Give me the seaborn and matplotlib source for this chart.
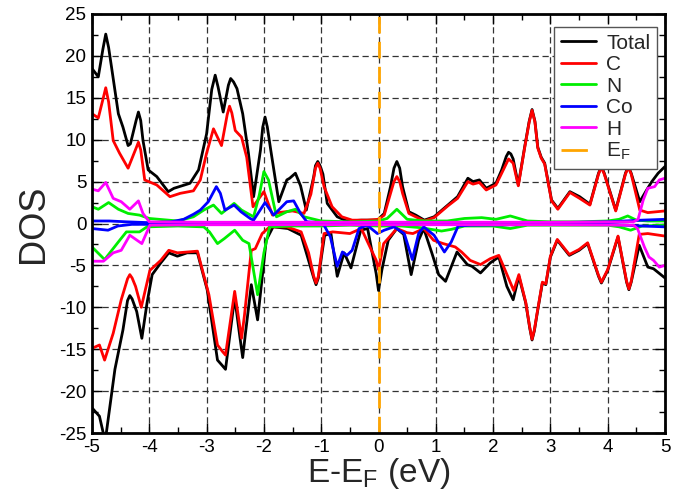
import matplotlib
matplotlib.use("Agg")
import matplotlib.pyplot as plt
from matplotlib.lines import Line2D
import seaborn as sns
import pandas as pd

# ---------------- data ----------------
TOT_UP_E = [-5.0, -4.89, -4.81, -4.76, -4.71, -4.66, -4.54, -4.46, -4.37, -4.33, -4.23, -4.19, -4.15, -4.11, -4.02,
            -3.87, -3.67, -3.57, -3.29, -3.14, -3.0, -2.91, -2.85, -2.80, -2.71, -2.62, -2.58, -2.53, -2.47, -2.37,
            -2.27, -2.18, -2.06, -2.02, -1.98, -1.94, -1.88, -1.74, -1.60, -1.55, -1.45, -1.36, -1.26, -1.13,
            -1.10, -1.06, -1.02, -0.97, -0.895, -0.72, -0.55, -0.3, -0.02, 0.10, 0.21, 0.27, 0.32, 0.37, 0.42,
            0.53, 0.65, 0.80, 0.97, 1.21, 1.38, 1.56, 1.65, 1.76, 1.88, 2.05, 2.15, 2.23, 2.27, 2.31, 2.35, 2.44,
            2.55, 2.63, 2.68, 2.73, 2.78, 2.84, 2.9, 3.02, 3.13, 3.34, 3.51, 3.69, 3.84, 3.89, 3.94, 4.14, 4.31,
            4.36, 4.41, 4.56, 4.68, 4.77, 4.88, 5.0]
TOT_UP = [18.5, 17.5, 20.8, 22.6, 21.0, 18.7, 13.1, 11.5, 9.3, 9.5, 12.3, 13.3, 12.3, 9.9, 6.4,
          5.6, 3.8, 4.2, 4.8, 6.4, 10.7, 16.0, 17.7, 16.3, 13.3, 16.5, 17.3, 16.9, 16.1, 13.1,
          8.4, 3.2, 8.75, 11.5, 12.7, 11.5, 8.75, 2.6, 5.2, 5.4, 6.0, 4.5, 1.6, 5.6,
          6.9, 7.4, 6.9, 5.9, 2.4, 0.8, 0.3, 0.4, 0.4, 1.2, 4.4, 6.6, 7.4, 6.6, 4.4,
          1.4, 1.0, 0.4, 0.8, 2.2, 3.2, 5.4, 5.0, 5.2, 4.2, 4.8, 6.4, 8.0, 8.5, 8.3, 7.7, 4.6,
          9.1, 12.2, 13.6, 12.2, 9.1, 7.9, 7.2, 2.8, 1.8, 3.8, 3.2, 2.3, 6.0, 6.8, 6.0, 1.6, 6.0,
          6.8, 6.0, 2.6, 4.0, 5.0, 6.0, 6.8]

TOT_DN_E = [-5.0, -4.87, -4.77, -4.6, -4.46, -4.38, -4.34, -4.30, -4.22, -4.13, -4.04, -3.95, -3.8, -3.66, -3.51,
            -3.34, -3.16, -2.99, -2.81, -2.72, -2.67, -2.51, -2.42, -2.37, -2.32, -2.22, -2.11, -1.96, -1.84,
            -1.58, -1.35, -1.13, -1.09, -1.05, -0.94, -0.83, -0.72, -0.6, -0.48, -0.31, -0.19, -0.04, 0.0,
            0.06, 0.17, 0.32, 0.44, 0.57, 0.7, 0.79, 0.93, 1.05, 1.17, 1.37, 1.55, 1.63, 1.78, 1.95, 2.1, 2.24,
            2.35, 2.45, 2.57, 2.64, 2.68, 2.72, 2.77, 2.86, 2.92, 3.0, 3.12, 3.33, 3.5, 3.65, 3.84, 3.89, 4.0,
            4.18, 4.33, 4.37, 4.41, 4.55, 4.7, 4.8, 5.0]
TOT_DN = [-22.0, -23.0, -26.0, -17.4, -12.7, -9.2, -8.6, -9.0, -10.5, -13.7, -9.5, -6.1, -4.7, -3.5, -3.9,
          -3.5, -3.5, -7.9, -16.3, -17.0, -17.4, -8.8, -13.5, -16.0, -13.0, -7.3, -11.5, -2.0, -0.4,
          -0.6, -1.4, -6.5, -7.3, -6.5, -1.4, -1.2, -6.3, -3.5, -5.3, -0.8, -0.6, -6.0, -8.0,
          -5.5, -2.0, -0.6, -1.3, -6.1, -2.0, -0.6, -3.5, -6.1, -6.9, -3.4, -4.9, -5.1, -5.9, -4.7, -4.0, -7.5,
          -9.1, -6.3, -9.5, -12.5, -13.9, -12.8, -10.7, -7.1, -7.3, -4.0, -2.0, -3.8, -3.2, -2.4, -6.3, -7.1, -5.6,
          -1.6, -7.0, -7.9, -7.0, -2.6, -5.2, -5.4, -6.5]

C_UP_E = [-5.0, -4.89, -4.81, -4.76, -4.71, -4.63, -4.52, -4.37, -4.23, -4.19, -4.15, -4.08, -3.87, -3.64, -3.46,
          -3.23, -3.11, -3.0, -2.88, -2.74, -2.64, -2.6, -2.56, -2.5, -2.39, -2.3, -2.19, -2.0, -1.85, -1.75,
          -1.5, -1.3, -1.18, -1.10, -1.06, -1.02, -0.95, -0.81, -0.64, -0.46, -0.2, 0.0, 0.10, 0.21, 0.27,
          0.32, 0.37, 0.42, 0.53, 0.65, 0.80, 0.97, 1.21, 1.38, 1.56, 1.65, 1.76, 1.88, 2.05, 2.15, 2.27, 2.35,
          2.44, 2.55, 2.63, 2.68, 2.73, 2.78, 2.84, 2.9, 3.02, 3.13, 3.34, 3.51, 3.69, 3.84, 3.89, 3.94, 4.14,
          4.31, 4.36, 4.41, 4.56, 4.7, 5.0]
C_UP = [13.1, 12.6, 14.8, 16.2, 14.5, 9.9, 8.4, 6.6, 9.0, 9.7, 8.8, 5.2, 4.6, 3.2, 3.6,
        3.9, 5.2, 8.4, 11.3, 9.3, 13.0, 14.0, 13.2, 11.1, 10.3, 7.9, 2.0, 3.8, 1.0, 1.3,
        1.5, 1.2, 3.5, 6.6, 7.2, 6.6, 4.4, 2.0, 0.8, 0.4, 0.4, 0.5, 1.0, 3.6, 5.0,
        5.6, 5.0, 3.6, 1.2, 0.8, 0.3, 0.7, 2.1, 3.0, 5.0, 4.7, 4.9, 4.0, 4.6, 6.0, 7.7, 7.2,
        4.5, 9.0, 12.1, 13.5, 12.1, 9.0, 7.8, 7.1, 2.7, 1.7, 3.7, 3.0, 2.2, 5.9, 6.7, 5.9, 1.5,
        5.9, 6.7, 5.9, 1.6, 1.3, 1.5]

C_DN_E = [-5.0, -4.87, -4.78, -4.63, -4.49, -4.38, -4.34, -4.30, -4.24, -4.14, -3.99, -3.8, -3.66, -3.51, -3.16,
          -2.96, -2.81, -2.72, -2.67, -2.51, -2.42, -2.39, -2.34, -2.22, -2.15, -2.03, -1.9, -1.6, -1.35, -1.22,
          -1.13, -1.09, -1.05, -0.95, -0.8, -0.5, -0.3, -0.04, 0.0, 0.09, 0.32, 0.5, 0.6, 0.79, 0.96, 1.13,
          1.34, 1.45, 1.6, 1.78, 1.95, 2.1, 2.36, 2.45, 2.57, 2.64, 2.68, 2.72, 2.77, 2.86, 2.92, 3.0, 3.12,
          3.33, 3.5, 3.65, 3.84, 3.89, 4.0, 4.18, 4.33, 4.37, 4.41, 4.55, 4.7, 5.0]
C_DN = [-14.9, -14.5, -16.3, -13.1, -9.1, -6.6, -6.1, -6.5, -7.5, -10.0, -5.6, -4.4, -3.2, -3.5, -3.3,
        -8.5, -14.5, -15.3, -15.7, -8.1, -12.3, -13.7, -11.0, -3.2, -3.0, -1.2, -0.4, -0.4, -1.0, -3.5,
        -6.3, -7.1, -6.3, -1.2, -1.0, -1.2, -0.6, -4.4, -5.5, -2.4, -0.6, -1.1, -1.2, -0.6, -2.0, -2.4,
        -2.8, -3.4, -4.4, -4.9, -4.2, -3.8, -8.0, -6.1, -9.4, -12.4, -13.8, -12.7, -10.6, -7.0, -7.2, -3.9, -1.9,
        -3.7, -3.1, -2.3, -6.2, -7.0, -5.5, -1.5, -6.9, -7.8, -6.9, -1.3, -1.2, -1.5]

N_UP_E = [-5.0, -4.89, -4.71, -4.54, -4.37, -4.17, -4.0, -3.5, -3.23, -3.05, -2.88, -2.74, -2.52, -2.39, -2.18,
          -2.08, -2.0, -1.92, -1.78, -1.6, -1.45, -1.3, -1.0, -0.5, 0.0, 0.15, 0.32, 0.5, 0.8, 1.2, 1.5, 1.8,
          2.05, 2.3, 2.6, 3.0, 3.5, 4.0, 4.2, 4.35, 4.5, 4.7, 5.0]
N_UP = [2.0, 1.7, 2.5, 1.7, 1.2, 1.0, 0.6, 0.3, 0.8, 1.6, 2.2, 1.2, 2.4, 1.6, 0.8,
        3.4, 6.2, 5.2, 0.8, 1.4, 1.7, 0.8, 0.3, 0.2, 0.3, 0.6, 1.7, 0.5, 0.3, 0.3, 0.6, 0.7,
        0.5, 0.9, 0.3, 0.2, 0.2, 0.3, 0.5, 0.9, 0.4, 0.3, 0.3]

N_DN_E = [-5.0, -4.78, -4.54, -4.4, -4.17, -4.04, -3.5, -3.05, -2.95, -2.81, -2.69, -2.51, -2.37, -2.26, -2.11,
          -2.0, -1.9, -1.5, -1.0, -0.5, 0.0, 0.4, 0.74, 1.1, 1.27, 1.5, 2.0, 2.3, 2.6, 3.0, 4.0, 4.2, 4.4,
          4.6, 5.0]
N_DN = [-2.8, -4.3, -2.2, -1.0, -1.0, -0.4, -0.3, -0.4, -1.0, -2.4, -1.8, -0.8, -2.0, -2.4, -8.5,
        -3.5, -0.4, -0.3, -0.3, -0.2, -0.3, -0.3, -0.5, -0.9, -0.7, -0.3, -0.3, -0.6, -0.2, -0.2, -0.2, -0.4, -0.8,
        -0.3, -0.2]

CO_UP_E = [-5.0, -4.7, -4.4, -4.0, -3.62, -3.4, -3.23, -3.11, -2.97, -2.83, -2.76, -2.68, -2.52, -2.4, -2.24,
           -2.18, -1.98, -1.83, -1.6, -1.48, -1.36, -1.25, -1.0, 0.0, 1.0, 2.0, 3.0, 4.0, 4.3, 4.6, 5.0]
CO_UP = [0.3, 0.3, 0.2, 0.1, 0.2, 0.5, 1.1, 1.6, 2.6, 4.4, 3.6, 1.6, 2.2, 1.4, 0.6,
         0.4, 2.5, 1.0, 2.6, 2.7, 1.2, 0.2, 0.1, 0.1, 0.1, 0.1, 0.1, 0.2, 0.3, 0.4, 0.5]

CO_DN_E = [-5.0, -4.72, -4.55, -4.3, -3.0, -2.0, -1.0, -0.95, -0.84, -0.72, -0.63, -0.55, -0.46, -0.34, -0.2,
           -0.02, 0.1, 0.27, 0.45, 0.59, 0.7, 0.79, 0.97, 1.15, 1.27, 1.39, 1.6, 3.0, 4.0, 4.3, 4.6, 5.0]
CO_DN = [-0.6, -0.8, -0.3, -0.1, -0.1, -0.1, -0.1, -0.2, -1.6, -5.1, -3.4, -3.8, -3.2, -0.6, -0.2,
         -1.2, -0.8, -0.4, -1.2, -4.3, -1.2, -0.4, -1.4, -3.4, -2.2, -0.3, -0.2, -0.1, -0.1, -0.2, -0.3, -0.4]

H_UP_E = [-5.0, -4.89, -4.76, -4.63, -4.49, -4.34, -4.19, -4.11, -4.0, -3.0, 0.0, 3.0, 4.45, 4.53, 4.62, 4.7,
          4.82, 4.9, 5.0]
H_UP = [4.1, 3.9, 4.9, 3.0, 2.6, 1.7, 2.7, 1.2, 0.2, 0.15, 0.15, 0.15, 0.2, 0.5, 2.8, 4.2,
        4.4, 5.2, 5.4]

H_DN_E = [-5.0, -4.8, -4.63, -4.49, -4.34, -4.13, -3.99, -3.0, 0.0, 3.0, 4.45, 4.52, 4.64, 4.72, 4.8, 4.9, 5.0]
H_DN = [-4.5, -4.5, -3.5, -3.2, -1.4, -2.4, -0.2, -0.15, -0.15, -0.15, -0.2, -0.6, -2.8, -4.0, -4.4, -5.2, -5.0]

SPECIES = ["Total", "C", "N", "Co", "H"]
COLORS = ["#000000", "#ff0000", "#00ee00", "#0000ff", "#ff00ff"]
EF_COLOR = "#ffa500"
X_TICKS = [-5, -4, -3, -2, -1, 0, 1, 2, 3, 4, 5]
Y_TICKS = [-25, -20, -15, -10, -5, 0, 5, 10, 15, 20, 25]

SERIES = {
    "Total": [(TOT_UP_E, TOT_UP), (TOT_DN_E, TOT_DN)],
    "C": [(C_UP_E, C_UP), (C_DN_E, C_DN)],
    "N": [(N_UP_E, N_UP), (N_DN_E, N_DN)],
    "Co": [(CO_UP_E, CO_UP), (CO_DN_E, CO_DN)],
    "H": [(H_UP_E, H_UP), (H_DN_E, H_DN)],
}

# ---------------- figure ----------------
sns.set_theme(style="white")
plt.rcParams["font.family"] = ["Liberation Sans", "DejaVu Sans"]
plt.rcParams["mathtext.default"] = "regular"

fig = plt.figure(figsize=(6.76, 5.0), dpi=100)
ax = fig.add_axes([92 / 676, 1 - 433 / 500, (665 - 92) / 676, (433 - 14) / 500])

LW = 2.0
rows = []
for sp in SPECIES:
    for spin, (xs, ys) in zip(["up", "down"], SERIES[sp]):
        for x, y in zip(xs, ys):
            rows.append({"E": x, "DOS": y, "species": sp, "spin": spin})
df = pd.DataFrame(rows)

for sp, col in zip(SPECIES, COLORS):
    for spin in ["up", "down"]:
        sub = df[(df.species == sp) & (df.spin == spin)]
        sns.lineplot(data=sub, x="E", y="DOS", color=col, lw=LW, sort=False,
                     estimator=None, ax=ax, legend=False, zorder=3,
                     solid_joinstyle="round", solid_capstyle="round")

ax.axvline(0, color=EF_COLOR, lw=2.0, dashes=(6, 3), zorder=4)

ax.set_xlim(-5, 5)
ax.set_ylim(-25, 25)
ax.set_xticks(X_TICKS)
ax.set_yticks(Y_TICKS)
ax.set_xticklabels([str(t) for t in X_TICKS])
ax.set_yticklabels([str(t) for t in Y_TICKS])
ax.set_xticks([t + 0.5 for t in X_TICKS[:-1]], minor=True)
ax.set_yticks([t + 2.5 for t in Y_TICKS[:-1]], minor=True)

ax.grid(True, which="major", color="#333333", linestyle=(0, (5, 3)), lw=0.9, zorder=1)
ax.tick_params(which="both", direction="in", top=True, right=True, bottom=True, left=True,
               colors="black", labelsize=13.5, pad=4)
ax.tick_params(which="major", length=7, width=1.0)
ax.tick_params(which="minor", length=4, width=1.0)
for s in ax.spines.values():
    s.set_linewidth(2.0)
    s.set_color("black")
    s.set_zorder(5)

ax.set_xlabel("E-E$_F$ (eV)", fontsize=24, labelpad=0)
ax.set_ylabel("DOS", fontsize=26, labelpad=6)

handles = [Line2D([], [], color=c, lw=LW) for c in COLORS]
handles.append(Line2D([], [], color=EF_COLOR, lw=2.0, dashes=(9.5, 6)))
labels = SPECIES + ["E$_F$"]
leg = ax.legend(handles, labels, loc="upper right", bbox_to_anchor=(0.993, 0.978), fontsize=15,
                frameon=True, fancybox=False, edgecolor="#555555", framealpha=1,
                handlelength=1.7, handletextpad=0.5, labelspacing=0.12, borderpad=0.3,
                borderaxespad=0.2)
leg.get_frame().set_linewidth(1.0)
leg.set_zorder(6)

fig.savefig("out.png", dpi=100)
